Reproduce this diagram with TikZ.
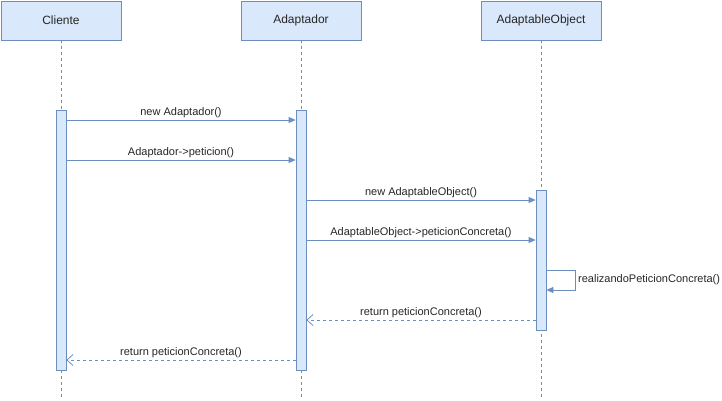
\documentclass[tikz,border=0pt]{standalone}
\usepackage{fontspec}
\setmainfont{Liberation Sans}
\usetikzlibrary{arrows.meta}
\definecolor{fillb}{HTML}{DAE8FC}
\definecolor{lineb}{HTML}{6C8EBF}
\begin{document}
\begin{tikzpicture}[x=1pt,y=-1pt,
  hdr/.style={draw=lineb,fill=fillb,line width=0.8pt,minimum width=120pt,minimum height=39pt,inner sep=0pt,font=\fontsize{12}{14}\selectfont,text=black!85},
  act/.style={draw=lineb,fill=fillb,line width=0.8pt,inner sep=0pt,minimum width=10pt},
  life/.style={draw=lineb,line width=0.8pt,dash pattern=on 3pt off 3pt},
  msg/.style={draw=lineb,line width=0.8pt,-{Triangle[length=7pt,width=6pt]}},
  ret/.style={draw=lineb,line width=0.8pt,dash pattern=on 3pt off 3pt,-{Straight Barb[length=6pt,width=11pt,line width=0.8pt]}},
  lbl/.style={font=\fontsize{11}{13}\selectfont,text=black!85,inner sep=1pt}]
\useasboundingbox (0,0) rectangle (722,401);
% headers
\node[hdr] (cli) at (61,20.5) {Cliente};
\node[hdr] (ada) at (301,20.5) {Adaptador};
\node[hdr] (obj) at (541,20.5) {AdaptableObject};
% lifeline ends
\coordinate (l1b) at (61,397);
\coordinate (l2b) at (301,397);
\coordinate (l3b) at (541,397);
\draw[life] (cli.south) -- (l1b);
\draw[life] (ada.south) -- (l2b);
\draw[life] (obj.south) -- (l3b);
% activations
\node[act,minimum height=260pt] (a1) at (61,240) {};
\node[act,minimum height=260pt] (a2) at (301,240) {};
\node[act,minimum height=140pt] (a3) at (541,260) {};
% message levels
\coordinate (y1) at (0,120);
\coordinate (y2) at (0,160);
\coordinate (y3) at (0,200);
\coordinate (y4) at (0,240);
\coordinate (y5) at (0,320);
\coordinate (y6) at (0,360);
\coordinate (s1) at (575,270);
\coordinate (s2) at (575,290);
% messages
\draw[msg] (a1.east |- y1) -- node[lbl,above=1pt] {new Adaptador()} (a2.west |- y1);
\draw[msg] (a1.east |- y2) -- node[lbl,above=1pt] {Adaptador->peticion()} (a2.west |- y2);
\draw[msg] (a2.east |- y3) -- node[lbl,above=1pt] {new AdaptableObject()} (a3.west |- y3);
\draw[msg] (a2.east |- y4) -- node[lbl,above=1pt] {AdaptableObject->peticionConcreta()} (a3.west |- y4);
\draw[msg] (a3.east |- s1) -- (s1) -- (s2) -- (a3.east |- s2);
\node[lbl,anchor=west] (self) at (577,280) {realizandoPeticionConcreta()};
\draw[ret] (a3.west |- y5) -- node[lbl,above=1pt] {return peticionConcreta()} (a2.east |- y5);
\draw[ret] (a2.west |- y6) -- node[lbl,above=1pt] {return peticionConcreta()} (a1.east |- y6);
\end{tikzpicture}
\end{document}
